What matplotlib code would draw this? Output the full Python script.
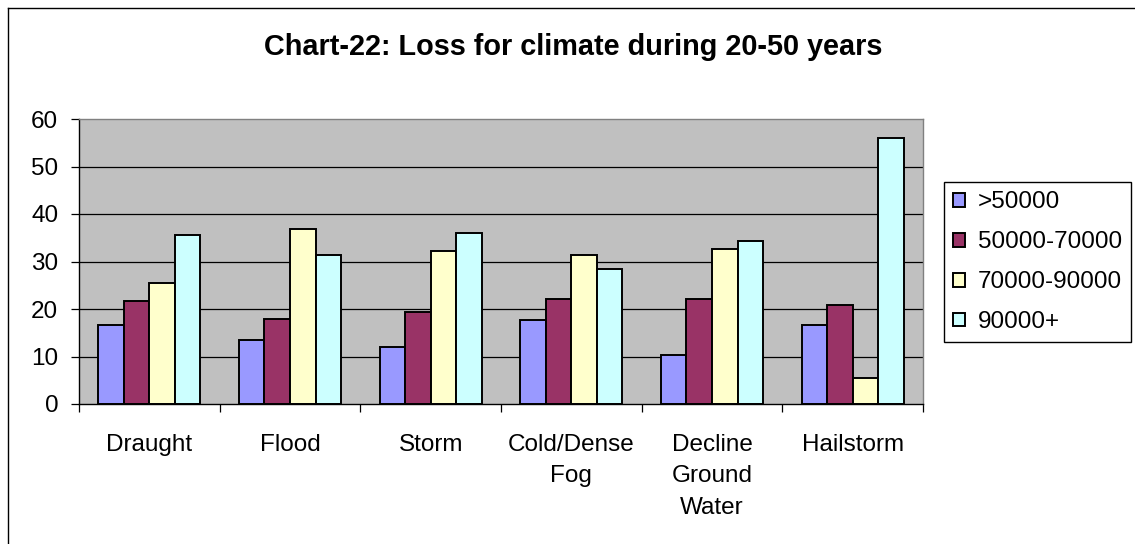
import matplotlib
matplotlib.use("Agg")
import matplotlib.pyplot as plt
import numpy as np
from matplotlib.lines import Line2D

plt.rcParams['font.family'] = ['Liberation Sans', 'DejaVu Sans']

categories = ["Draught", "Flood", "Storm", "Cold/Dense\nFog", "Decline\nGround\nWater", "Hailstorm"]
series_names = [">50000", "50000-70000", "70000-90000", "90000+"]
s_50000 = [16.7, 13.4, 12.1, 17.6, 10.4, 16.7]
s_50_70 = [21.7, 17.9, 19.3, 22.1, 22.1, 20.9]
s_70_90 = [25.5, 36.9, 32.2, 31.4, 32.6, 5.4]
s_90plus = [35.6, 31.4, 35.9, 28.5, 34.3, 56.1]
series = [s_50000, s_50_70, s_70_90, s_90plus]
colors = ["#9999FF", "#993366", "#FFFFCC", "#CCFFFF"]
yticks = [0, 10, 20, 30, 40, 50, 60]
title = "Chart-22: Loss for climate during 20-50 years"

W, H = 1135, 544
fig = plt.figure(figsize=(W / 100, H / 100), dpi=100)
fig.patch.set_facecolor("white")

# outer chart frame (left/top visible)
fig.add_artist(Line2D([7.5 / W, 7.5 / W], [0, 1 - 7.5 / H], transform=fig.transFigure, color="black", lw=1.0))
fig.add_artist(Line2D([7.5 / W, 1], [1 - 7.5 / H, 1 - 7.5 / H], transform=fig.transFigure, color="black", lw=1.0))

ax = fig.add_axes([79 / W, 1 - 404 / H, 844 / W, 285 / H])
ax.set_facecolor("#C0C0C0")

n = len(categories)
bw = 1 / 5.5
x = np.arange(n)
for i, (vals, c, name) in enumerate(zip(series, colors, series_names)):
    offs = (i - 1.5) * bw
    ax.bar(x + 0.5 + offs, vals, width=bw, color=c, edgecolor="black", linewidth=1.4, label=name, zorder=3)

ax.set_xlim(0, n)
ax.set_ylim(0, 60)
ax.set_yticks(yticks)
ax.set_yticklabels([str(t) for t in yticks])
for t in yticks[1:-1]:
    ax.axhline(t, color="black", lw=0.9, zorder=1)

ax.set_xticks(np.arange(n + 1))
ax.set_xticklabels([""] * (n + 1))
ax.set_xticks(x + 0.5, minor=True)
ax.set_xticklabels(categories, minor=True, fontsize=17.5, linespacing=1.55)
ax.tick_params(axis="x", which="minor", length=0, pad=21.5)
ax.tick_params(axis="x", which="major", length=6, width=0.9, direction="out", color="black")
ax.tick_params(axis="y", length=6, width=0.9, direction="out", pad=9, labelsize=17.5, color="black")

ax.spines["left"].set_color("black")
ax.spines["bottom"].set_color("black")
ax.spines["top"].set_color("#808080")
ax.spines["right"].set_color("#808080")
for s in ax.spines.values():
    s.set_linewidth(1.0)
    s.set_zorder(4)

fig.text(573 / W, 1 - 47 / H, title, ha="center", va="center", fontsize=20.8, fontweight="bold")

leg = ax.legend(loc="upper left", bbox_to_anchor=(944 / W, 1 - 182 / H), bbox_transform=fig.transFigure,
                fontsize=17.5, frameon=True, fancybox=False, edgecolor="black", framealpha=1,
                handlelength=0.5, handleheight=0.5, handletextpad=0.5, labelspacing=0.74,
                borderpad=0.38, borderaxespad=0)
leg.get_frame().set_linewidth(1.0)
for p in leg.get_patches():
    p.set_linewidth(1.4)

fig.savefig("out.png", dpi=100)
